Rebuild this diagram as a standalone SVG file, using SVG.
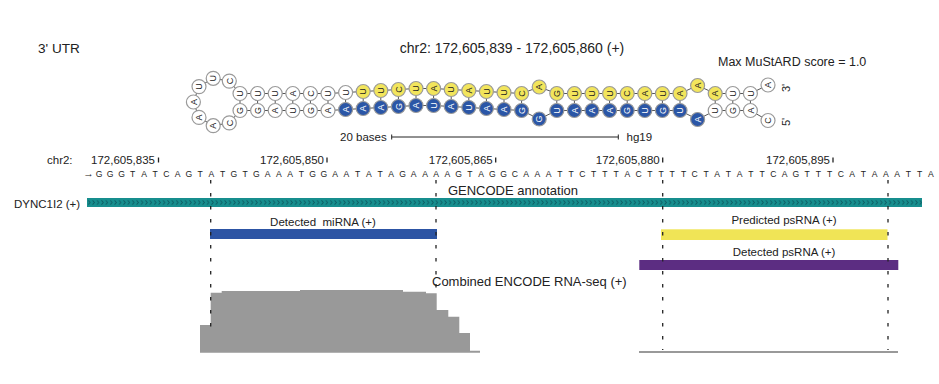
<svg xmlns="http://www.w3.org/2000/svg" width="939" height="384" viewBox="0 0 939 384">
<defs>
<style>
text{font-family:"Liberation Sans",Arial,sans-serif;fill:#222}
.nt circle{stroke:#9a9a9a;stroke-width:1.2}
.w circle{fill:#fff}
.y circle{fill:#f2e55c}
.b circle{fill:#2b56a6}
.nt text{font-size:9px;text-anchor:middle}
.b text{fill:#fff}
.bb{fill:none;stroke:#555;stroke-width:1}
.pr{stroke:#555;stroke-width:1}
.lbl{font-size:11.5px}
.mid{text-anchor:middle}
.dash{stroke:#222;stroke-width:1.3;stroke-dasharray:3.5 9.5}
.tick{stroke:#222;stroke-width:1.3}
</style>
<pattern id="chev" x="87" y="198" width="4.4" height="9" patternUnits="userSpaceOnUse">
<path d="M1.3,2.4 L3,4.5 L1.3,6.6" fill="none" stroke="#0d5c63" stroke-width="0.9"/>
</pattern>
</defs>
<rect width="939" height="384" fill="#fff"/>

<g id="header">
<text x="38" y="53" style="font-size:13.6px">3' UTR</text>
<text x="512" y="53" class="mid" style="font-size:14px">chr2: 172,605,839 - 172,605,860 (+)</text>
<text x="718" y="66" style="font-size:12.5px">Max MuStARD score = 1.0</text>
</g>

<g id="rna-structure">
<polyline class="bb" points="768,120.5 750.4,110.5 732.8,110.5 715.2,110.5 697.6,119.5 680,110.5 662.4,110.5 644.8,110.5 627.2,110.5 609.6,110.5 592,110.5 574.4,110.5 556.8,110.5 539.2,119 521.6,110.5 504,109.5 486.4,108.5 468.8,107.5 451.2,106.5 433.6,105.5 416,105.5 398.4,106.5 380.8,107.5 363.2,108.5 345.6,109.5 328,110.5 310.4,110.5 292.8,110.5 275.2,110.5 257.6,110.5 240,110.5 229.3,122.9 213.2,125.7 199,117.4 193.4,102 199,86.6 213.2,78.3 229.3,81.1 240,93.5 257.6,93.5 275.2,93.5 292.8,93.5 310.4,93.5 328,93.5 345.6,92.5 363.2,91.5 380.8,90.5 398.4,89.5 416,88.5 433.6,88.5 451.2,89.5 468.8,90.5 486.4,91.5 504,92.5 521.6,93.5 539.2,87 556.8,93.5 574.4,93.5 592,93.5 609.6,93.5 627.2,93.5 644.8,93.5 662.4,93.5 680,93.5 697.6,85.5 715.2,93.5 732.8,93.5 750.4,93.5 768,85"/>
<g id="pairs" class="pr">
<line x1="240" y1="100.5" x2="240" y2="103.5"/>
<line x1="257.6" y1="100.5" x2="257.6" y2="103.5"/>
<line x1="275.2" y1="100.5" x2="275.2" y2="103.5"/>
<line x1="292.8" y1="100.5" x2="292.8" y2="103.5"/>
<line x1="310.4" y1="100.5" x2="310.4" y2="103.5"/>
<line x1="328" y1="100.5" x2="328" y2="103.5"/>
<line x1="345.6" y1="99.5" x2="345.6" y2="102.5"/>
<line x1="363.2" y1="98.5" x2="363.2" y2="101.5"/>
<line x1="380.8" y1="97.5" x2="380.8" y2="100.5"/>
<line x1="398.4" y1="96.5" x2="398.4" y2="99.5"/>
<line x1="416" y1="95.5" x2="416" y2="98.5"/>
<line x1="433.6" y1="95.5" x2="433.6" y2="98.5"/>
<line x1="451.2" y1="96.5" x2="451.2" y2="99.5"/>
<line x1="468.8" y1="97.5" x2="468.8" y2="100.5"/>
<line x1="486.4" y1="98.5" x2="486.4" y2="101.5"/>
<line x1="504" y1="99.5" x2="504" y2="102.5"/>
<line x1="521.6" y1="100.5" x2="521.6" y2="103.5"/>
<line x1="556.8" y1="100.5" x2="556.8" y2="103.5"/>
<line x1="574.4" y1="100.5" x2="574.4" y2="103.5"/>
<line x1="592" y1="100.5" x2="592" y2="103.5"/>
<line x1="609.6" y1="100.5" x2="609.6" y2="103.5"/>
<line x1="627.2" y1="100.5" x2="627.2" y2="103.5"/>
<line x1="644.8" y1="100.5" x2="644.8" y2="103.5"/>
<line x1="662.4" y1="100.5" x2="662.4" y2="103.5"/>
<line x1="680" y1="100.5" x2="680" y2="103.5"/>
<line x1="715.2" y1="100.5" x2="715.2" y2="103.5"/>
<line x1="732.8" y1="100.5" x2="732.8" y2="103.5"/>
<line x1="750.4" y1="100.5" x2="750.4" y2="103.5"/>
</g>
<g class="nt w" id="n1" transform="translate(768,120.5)"><circle r="7"/><text transform="rotate(-90)" y="3.2">C</text></g>
<g class="nt w" id="n2" transform="translate(750.4,110.5)"><circle r="7"/><text transform="rotate(-90)" y="3.2">A</text></g>
<g class="nt w" id="n3" transform="translate(732.8,110.5)"><circle r="7"/><text transform="rotate(-90)" y="3.2">G</text></g>
<g class="nt w" id="n4" transform="translate(715.2,110.5)"><circle r="7"/><text transform="rotate(-90)" y="3.2">U</text></g>
<g class="nt b" id="n5" transform="translate(697.6,119.5)"><circle r="7"/><text transform="rotate(-90)" y="3.2">A</text></g>
<g class="nt b" id="n6" transform="translate(680,110.5)"><circle r="7"/><text transform="rotate(-90)" y="3.2">U</text></g>
<g class="nt b" id="n7" transform="translate(662.4,110.5)"><circle r="7"/><text transform="rotate(-90)" y="3.2">G</text></g>
<g class="nt b" id="n8" transform="translate(644.8,110.5)"><circle r="7"/><text transform="rotate(-90)" y="3.2">U</text></g>
<g class="nt b" id="n9" transform="translate(627.2,110.5)"><circle r="7"/><text transform="rotate(-90)" y="3.2">G</text></g>
<g class="nt b" id="n10" transform="translate(609.6,110.5)"><circle r="7"/><text transform="rotate(-90)" y="3.2">A</text></g>
<g class="nt b" id="n11" transform="translate(592,110.5)"><circle r="7"/><text transform="rotate(-90)" y="3.2">A</text></g>
<g class="nt b" id="n12" transform="translate(574.4,110.5)"><circle r="7"/><text transform="rotate(-90)" y="3.2">A</text></g>
<g class="nt b" id="n13" transform="translate(556.8,110.5)"><circle r="7"/><text transform="rotate(-90)" y="3.2">U</text></g>
<g class="nt b" id="n14" transform="translate(539.2,119)"><circle r="7"/><text transform="rotate(-90)" y="3.2">G</text></g>
<g class="nt b" id="n15" transform="translate(521.6,110.5)"><circle r="7"/><text transform="rotate(-90)" y="3.2">G</text></g>
<g class="nt b" id="n16" transform="translate(504,109.5)"><circle r="7"/><text transform="rotate(-90)" y="3.2">A</text></g>
<g class="nt b" id="n17" transform="translate(486.4,108.5)"><circle r="7"/><text transform="rotate(-90)" y="3.2">A</text></g>
<g class="nt b" id="n18" transform="translate(468.8,107.5)"><circle r="7"/><text transform="rotate(-90)" y="3.2">U</text></g>
<g class="nt b" id="n19" transform="translate(451.2,106.5)"><circle r="7"/><text transform="rotate(-90)" y="3.2">A</text></g>
<g class="nt b" id="n20" transform="translate(433.6,105.5)"><circle r="7"/><text transform="rotate(-90)" y="3.2">U</text></g>
<g class="nt b" id="n21" transform="translate(416,105.5)"><circle r="7"/><text transform="rotate(-90)" y="3.2">A</text></g>
<g class="nt b" id="n22" transform="translate(398.4,106.5)"><circle r="7"/><text transform="rotate(-90)" y="3.2">G</text></g>
<g class="nt b" id="n23" transform="translate(380.8,107.5)"><circle r="7"/><text transform="rotate(-90)" y="3.2">A</text></g>
<g class="nt b" id="n24" transform="translate(363.2,108.5)"><circle r="7"/><text transform="rotate(-90)" y="3.2">A</text></g>
<g class="nt b" id="n25" transform="translate(345.6,109.5)"><circle r="7"/><text transform="rotate(-90)" y="3.2">A</text></g>
<g class="nt w" id="n26" transform="translate(328,110.5)"><circle r="7"/><text transform="rotate(-90)" y="3.2">A</text></g>
<g class="nt w" id="n27" transform="translate(310.4,110.5)"><circle r="7"/><text transform="rotate(-90)" y="3.2">G</text></g>
<g class="nt w" id="n28" transform="translate(292.8,110.5)"><circle r="7"/><text transform="rotate(-90)" y="3.2">U</text></g>
<g class="nt w" id="n29" transform="translate(275.2,110.5)"><circle r="7"/><text transform="rotate(-90)" y="3.2">A</text></g>
<g class="nt w" id="n30" transform="translate(257.6,110.5)"><circle r="7"/><text transform="rotate(-90)" y="3.2">G</text></g>
<g class="nt w" id="n31" transform="translate(240,110.5)"><circle r="7"/><text transform="rotate(-90)" y="3.2">G</text></g>
<g class="nt w" id="n32" transform="translate(229.3,122.9)"><circle r="7"/><text transform="rotate(-90)" y="3.2">C</text></g>
<g class="nt w" id="n33" transform="translate(213.2,125.7)"><circle r="7"/><text transform="rotate(-90)" y="3.2">A</text></g>
<g class="nt w" id="n34" transform="translate(199,117.4)"><circle r="7"/><text transform="rotate(-90)" y="3.2">A</text></g>
<g class="nt w" id="n35" transform="translate(193.4,102)"><circle r="7"/><text transform="rotate(-90)" y="3.2">A</text></g>
<g class="nt w" id="n36" transform="translate(199,86.6)"><circle r="7"/><text transform="rotate(-90)" y="3.2">U</text></g>
<g class="nt w" id="n37" transform="translate(213.2,78.3)"><circle r="7"/><text transform="rotate(-90)" y="3.2">U</text></g>
<g class="nt w" id="n38" transform="translate(229.3,81.1)"><circle r="7"/><text transform="rotate(-90)" y="3.2">C</text></g>
<g class="nt w" id="n39" transform="translate(240,93.5)"><circle r="7"/><text transform="rotate(-90)" y="3.2">U</text></g>
<g class="nt w" id="n40" transform="translate(257.6,93.5)"><circle r="7"/><text transform="rotate(-90)" y="3.2">U</text></g>
<g class="nt w" id="n41" transform="translate(275.2,93.5)"><circle r="7"/><text transform="rotate(-90)" y="3.2">U</text></g>
<g class="nt w" id="n42" transform="translate(292.8,93.5)"><circle r="7"/><text transform="rotate(-90)" y="3.2">A</text></g>
<g class="nt w" id="n43" transform="translate(310.4,93.5)"><circle r="7"/><text transform="rotate(-90)" y="3.2">C</text></g>
<g class="nt w" id="n44" transform="translate(328,93.5)"><circle r="7"/><text transform="rotate(-90)" y="3.2">U</text></g>
<g class="nt w" id="n45" transform="translate(345.6,92.5)"><circle r="7"/><text transform="rotate(-90)" y="3.2">U</text></g>
<g class="nt y" id="n46" transform="translate(363.2,91.5)"><circle r="7"/><text transform="rotate(-90)" y="3.2">U</text></g>
<g class="nt y" id="n47" transform="translate(380.8,90.5)"><circle r="7"/><text transform="rotate(-90)" y="3.2">U</text></g>
<g class="nt y" id="n48" transform="translate(398.4,89.5)"><circle r="7"/><text transform="rotate(-90)" y="3.2">C</text></g>
<g class="nt y" id="n49" transform="translate(416,88.5)"><circle r="7"/><text transform="rotate(-90)" y="3.2">U</text></g>
<g class="nt y" id="n50" transform="translate(433.6,88.5)"><circle r="7"/><text transform="rotate(-90)" y="3.2">A</text></g>
<g class="nt y" id="n51" transform="translate(451.2,89.5)"><circle r="7"/><text transform="rotate(-90)" y="3.2">U</text></g>
<g class="nt y" id="n52" transform="translate(468.8,90.5)"><circle r="7"/><text transform="rotate(-90)" y="3.2">A</text></g>
<g class="nt y" id="n53" transform="translate(486.4,91.5)"><circle r="7"/><text transform="rotate(-90)" y="3.2">U</text></g>
<g class="nt y" id="n54" transform="translate(504,92.5)"><circle r="7"/><text transform="rotate(-90)" y="3.2">U</text></g>
<g class="nt y" id="n55" transform="translate(521.6,93.5)"><circle r="7"/><text transform="rotate(-90)" y="3.2">C</text></g>
<g class="nt y" id="n56" transform="translate(539.2,87)"><circle r="7"/><text transform="rotate(-90)" y="3.2">A</text></g>
<g class="nt y" id="n57" transform="translate(556.8,93.5)"><circle r="7"/><text transform="rotate(-90)" y="3.2">G</text></g>
<g class="nt y" id="n58" transform="translate(574.4,93.5)"><circle r="7"/><text transform="rotate(-90)" y="3.2">U</text></g>
<g class="nt y" id="n59" transform="translate(592,93.5)"><circle r="7"/><text transform="rotate(-90)" y="3.2">U</text></g>
<g class="nt y" id="n60" transform="translate(609.6,93.5)"><circle r="7"/><text transform="rotate(-90)" y="3.2">U</text></g>
<g class="nt y" id="n61" transform="translate(627.2,93.5)"><circle r="7"/><text transform="rotate(-90)" y="3.2">C</text></g>
<g class="nt y" id="n62" transform="translate(644.8,93.5)"><circle r="7"/><text transform="rotate(-90)" y="3.2">A</text></g>
<g class="nt y" id="n63" transform="translate(662.4,93.5)"><circle r="7"/><text transform="rotate(-90)" y="3.2">U</text></g>
<g class="nt y" id="n64" transform="translate(680,93.5)"><circle r="7"/><text transform="rotate(-90)" y="3.2">A</text></g>
<g class="nt y" id="n65" transform="translate(697.6,85.5)"><circle r="7"/><text transform="rotate(-90)" y="3.2">A</text></g>
<g class="nt y" id="n66" transform="translate(715.2,93.5)"><circle r="7"/><text transform="rotate(-90)" y="3.2">A</text></g>
<g class="nt w" id="n67" transform="translate(732.8,93.5)"><circle r="7"/><text transform="rotate(-90)" y="3.2">U</text></g>
<g class="nt w" id="n68" transform="translate(750.4,93.5)"><circle r="7"/><text transform="rotate(-90)" y="3.2">U</text></g>
<g class="nt w" id="n69" transform="translate(768,85)"><circle r="7"/><text transform="rotate(-90)" y="3.2">A</text></g>
<text transform="translate(786,88) rotate(-90)" class="mid" y="4" style="font-size:11px">3'</text>
<text transform="translate(786,122) rotate(-90)" class="mid" y="4" style="font-size:11px">5'</text>
</g>

<g id="scale">
<text x="340" y="141" class="lbl">20 bases</text>
<line x1="391.7" y1="137" x2="618.3" y2="137" stroke="#222" stroke-width="1"/>
<line x1="391.7" y1="134.5" x2="391.7" y2="139.5" stroke="#222" stroke-width="1"/>
<line x1="618.3" y1="134.5" x2="618.3" y2="139.5" stroke="#222" stroke-width="1"/>
<text x="626.5" y="141" class="lbl">hg19</text>
</g>

<g id="ruler">
<text x="47" y="164" class="lbl">chr2:</text>
<text x="155" y="164" class="lbl" text-anchor="end">172,605,835</text>
<text x="324" y="164" class="lbl" text-anchor="end">172,605,850</text>
<text x="492.7" y="164" class="lbl" text-anchor="end">172,605,865</text>
<text x="659.7" y="164" class="lbl" text-anchor="end">172,605,880</text>
<text x="830" y="164" class="lbl" text-anchor="end">172,605,895</text>
<line class="tick" x1="158.5" y1="157.5" x2="158.5" y2="162.5"/>
<line class="tick" x1="327" y1="157.5" x2="327" y2="162.5"/>
<line class="tick" x1="495.7" y1="157.5" x2="495.7" y2="162.5"/>
<line class="tick" x1="662.7" y1="157.5" x2="662.7" y2="162.5"/>
<line class="tick" x1="833" y1="157.5" x2="833" y2="162.5"/>
<text x="88.5" y="176.5" class="mid" style="font-size:10.5px">→</text>
<text y="176.5" text-anchor="middle" style="font-size:8.6px" xml:space="preserve" x="99 104.6 110.2 115.8 121.5 127.1 132.7 138.3 144 149.6 155.2 160.8 166.4 172 177.7 183.3 188.9 194.5 200.2 205.8 211.4 217 222.6 228.2 233.9 239.5 245.1 250.7 256.4 262 267.6 273.2 278.8 284.4 290.1 295.7 301.3 306.9 312.6 318.2 323.8 329.4 335 340.6 346.3 351.9 357.5 363.1 368.8 374.4 380 385.6 391.2 396.8 402.5 408.1 413.7 419.3 425 430.6 436.2 441.8 447.4 453 458.7 464.3 469.9 475.5 481.2 486.8 492.4 498 503.6 509.2 514.9 520.5 526.1 531.7 537.4 543 548.6 554.2 559.8 565.4 571.1 576.7 582.3 587.9 593.6 599.2 604.8 610.4 616 621.6 627.3 632.9 638.5 644.1 649.8 655.4 661 666.6 672.2 677.8 683.5 689.1 694.7 700.3 706 711.6 717.2 722.8 728.4 734 739.7 745.3 750.9 756.5 762.2 767.8 773.4 779 784.6 790.2 795.9 801.5 807.1 812.7 818.4 824 829.6 835.2 840.8 846.4 852.1 857.7 863.3 868.9 874.6 880.2 885.8 891.4 897 902.6 908.3 913.9 919.5 925.1 930.8">G G G T A T C A G T A T G T G A A A T G G A A T A T A G A A A A G T A G G C A A A T T C T T T A C T T T T C T A T A T T C A G T T T C A T A A A T T A</text>
</g>

<g id="gencode">
<text x="513" y="194.5" class="mid" style="font-size:13px">GENCODE annotation</text>
<text x="14" y="208" class="lbl">DYNC1I2 (+)</text>
<rect x="87" y="198" width="835" height="9" fill="#178e8e"/>
<rect x="87" y="198" width="835" height="9" fill="url(#chev)"/>
</g>

<g id="mirna">
<text x="323" y="226" class="lbl mid" xml:space="preserve">Detected  miRNA (+)</text>
<rect x="210" y="229" width="227" height="10" fill="#2c54a4"/>
</g>

<g id="predicted-psrna">
<text x="784" y="224" class="lbl mid">Predicted psRNA (+)</text>
<rect x="661" y="229.3" width="226.5" height="10.7" fill="#f0e456"/>
</g>

<g id="detected-psrna">
<text x="784" y="256" class="lbl mid">Detected psRNA (+)</text>
<rect x="639.3" y="260" width="259" height="10" fill="#5c2d82"/>
</g>

<g id="rnaseq">
<text x="432" y="286" style="font-size:13px">Combined ENCODE RNA-seq (+)</text>
<path d="M200,352.7 V325 H210.7 V292.7 H221.7 V291 H300 V290 H403 V291.7 H426 V293.3 H436.7 V310 H448.3 V316.7 H459.3 V333 H470 V350.7 H480 V352.7 Z" fill="#999"/>
<rect x="639" y="351" width="259" height="2" fill="#999"/>
</g>

<g id="connectors">
<line class="dash" x1="210.7" y1="180" x2="210.7" y2="327"/>
<line class="dash" x1="436" y1="180" x2="436" y2="294"/>
<line class="dash" x1="662.7" y1="180" x2="662.7" y2="350"/>
<line class="dash" x1="888" y1="180" x2="888" y2="350"/>
</g>
</svg>
